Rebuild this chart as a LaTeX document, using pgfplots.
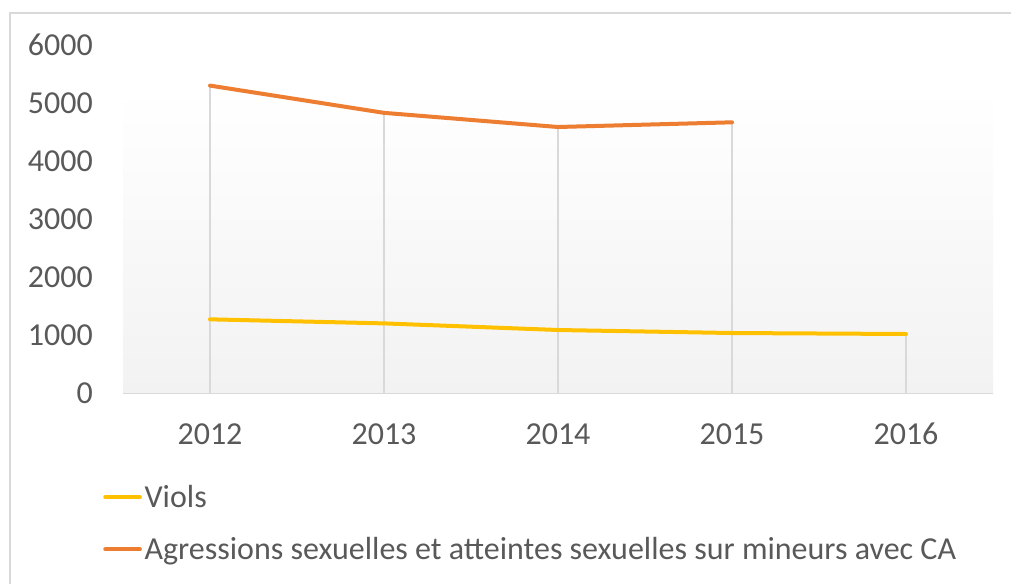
\documentclass[border=0pt]{standalone}
\usepackage{fontspec}
\setmainfont{Carlito}
\usepackage{pgfplots}
\pgfplotsset{compat=1.18}
\definecolor{txtgray}{HTML}{595959}
\definecolor{bgray}{HTML}{D9D9D9}
\definecolor{cyellow}{HTML}{FFC000}
\definecolor{corange}{HTML}{ED7D31}
\definecolor{shadegray}{HTML}{F2F2F2}
\begin{document}
\begin{tikzpicture}[x=0.75pt,y=0.75pt]
\useasboundingbox (0,0) rectangle (1011,584);
\draw[color=bgray, line width=1.1pt] (10,571) rectangle (1040,-30);
\begin{axis}[
  at={(92.25pt,143.25pt)}, anchor=south west,
  scale only axis, width=652.5pt, height=261pt,
  xmin=-0.5, xmax=4.5, ymin=0, ymax=6000,
  xtick={0,1,2,3,4}, xticklabels={2012,2013,2014,2015,2016},
  ytick={0,1000,2000,3000,4000,5000,6000},
  axis x line=bottom, axis y line=left,
  x axis line style={draw=bgray, line width=1.1pt, -},
  y axis line style={draw=none},
  major tick length=0pt, tick style={draw=none},
  /pgf/number format/assume math mode=true,
  /pgf/number format/set thousands separator={},
  tick label style={font=\fontsize{24}{28}\selectfont, text=txtgray, inner sep=0pt},
  yticklabel style={xshift=-22.5pt},
  xticklabel style={yshift=-22.5pt},
  legend style={at={(-0.023,-0.256)}, anchor=north west, draw=none, fill=none, inner sep=0pt,
    font=\fontsize{24}{28}\selectfont, text=txtgray, row sep=17pt,
    nodes={inner sep=2pt}},
  legend cell align=left,
  legend image code/.code={\draw[#1, line width=3pt, line cap=round] (0pt,0pt) -- (26pt,0pt);},
  clip=false,
]
\shade[top color=white, bottom color=shadegray] (axis cs:-0.5,0) rectangle (axis cs:4.5,5250);
\addplot[ycomb, color=bgray, line width=1.1pt, forget plot] coordinates {(0,5300) (1,4830) (2,4586) (3,4667) (4,1017)};
\addplot[color=cyellow, line width=3pt, line cap=round, line join=round] coordinates {(0,1270) (1,1200) (2,1086) (3,1034) (4,1017)};
\addlegendentry{Viols}
\addplot[color=corange, line width=3pt, line cap=round, line join=round] coordinates {(0,5300) (1,4830) (2,4586) (3,4667)};
\addlegendentry{Agressions sexuelles et atteintes sexuelles sur mineurs avec CA}
\end{axis}
\end{tikzpicture}
\end{document}
